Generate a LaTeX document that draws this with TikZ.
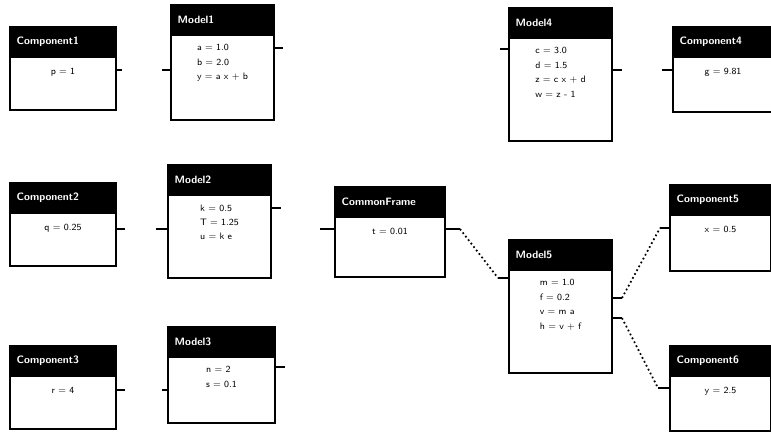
\documentclass[tikz,border=0pt]{standalone}
\usepackage{tikz}
\usetikzlibrary{arrows.meta,positioning,calc}

\tikzset{
  head/.style={draw, fill=black, text=white, font=\sffamily\bfseries\footnotesize, anchor=north west,
    line width=1.5pt, outer sep=0pt, inner xsep=5pt, minimum height=22.5pt, text width=#1, align=left},
  body/.style 2 args={draw, fill=white, line width=1.5pt, outer sep=0pt, inner sep=0pt,
    minimum width=#1, minimum height=#2},
  txt/.style={font=\sffamily\scriptsize\linespread{1.35}\selectfont, align=left, inner sep=1pt},
  port/.style={line width=1.2pt},
  link/.style={line width=1.3pt, dotted}
}

\begin{document}
\begin{tikzpicture}[x=0.75pt, y=-0.75pt]
  \useasboundingbox (0,0) rectangle (771,433);

  % left column: components
  \node[head=69.5pt] (c1head) at (10,27) {Component1};
  \node[body={79.5pt}{39.75pt}, below=0pt of c1head] (c1body) {};
  \node[txt, below=7pt of c1head] (c1txt) {p = 1};

  \node[head=69.5pt] (c2head) at (10,183) {Component2};
  \node[body={79.5pt}{39.75pt}, below=0pt of c2head] (c2body) {};
  \node[txt, below=7pt of c2head] (c2txt) {q = 0.25};

  \node[head=69.5pt] (c3head) at (10,346) {Component3};
  \node[body={79.5pt}{39.75pt}, below=0pt of c3head] (c3body) {};
  \node[txt, below=7pt of c3head] (c3txt) {r = 4};

  % second column: models
  \node[head=67.25pt] (m1head) at (171,5) {Model1};
  \node[body={77.25pt}{63.75pt}, below=0pt of m1head] (m1body) {};
  \node[txt, below=6pt of m1head] (m1txt) {a = 1.0\\ b = 2.0\\ y = a x + b};

  \node[head=67.25pt] (m2head) at (168,165) {Model2};
  \node[body={77.25pt}{62.25pt}, below=0pt of m2head] (m2body) {};
  \node[txt, below=6pt of m2head] (m2txt) {k = 0.5\\ T = 1.25\\ u = k e};

  \node[head=70.25pt] (m3head) at (168,327) {Model3};
  \node[body={80.25pt}{49.5pt}, below=0pt of m3head] (m3body) {};
  \node[txt, below=6pt of m3head] (m3txt) {n = 2\\ s = 0.1};

  % middle: common frame
  \node[head=72.5pt] (cfhead) at (335,187) {CommonFrame};
  \node[body={82.5pt}{45pt}, below=0pt of cfhead] (cfbody) {};
  \node[txt, below=7pt of cfhead] (cftxt) {t = 0.01};

  % right side: models
  \node[head=67.25pt] (m4head) at (509,8) {Model4};
  \node[body={77.25pt}{77.25pt}, below=0pt of m4head] (m4body) {};
  \node[txt, below=6pt of m4head] (m4txt) {c = 3.0\\ d = 1.5\\ z = c x + d\\ w = z - 1};

  \node[head=67.25pt] (m5head) at (509,240) {Model5};
  \node[body={77.25pt}{77.25pt}, below=0pt of m5head] (m5body) {};
  \node[txt, below=6pt of m5head] (m5txt) {m = 1.0\\ f = 0.2\\ v = m a\\ h = v + f};

  % right column: components
  \node[head=65pt] (c4head) at (673,27) {Component4};
  \node[body={75pt}{41.25pt}, below=0pt of c4head] (c4body) {};
  \node[txt, below=7pt of c4head] (c4txt) {g = 9.81};

  \node[head=65.75pt] (c5head) at (670,185) {Component5};
  \node[body={75.75pt}{42pt}, below=0pt of c5head] (c5body) {};
  \node[txt, below=7pt of c5head] (c5txt) {x = 0.5};

  \node[head=65.75pt] (c6head) at (670,346) {Component6};
  \node[body={75.75pt}{41.25pt}, below=0pt of c6head] (c6body) {};
  \node[txt, below=7pt of c6head] (c6txt) {y = 2.5};

  % port ends
  \coordinate (c1out) at (122,70);
  \coordinate (c2out) at (125,229);
  \coordinate (c3out) at (125,390);
  \coordinate (m1in) at (162,70);
  \coordinate (m1out) at (283,48);
  \coordinate (m2in) at (156,229);
  \coordinate (m2out) at (281,208);
  \coordinate (m3in) at (162,390);
  \coordinate (m3out) at (285,367);
  \coordinate (cfin) at (320,229);
  \coordinate (cfout) at (460,229);
  \coordinate (m4in) at (500,49);
  \coordinate (m4out) at (622,70);
  \coordinate (m5in) at (498,278);
  \coordinate (m5outa) at (622,298);
  \coordinate (m5outb) at (622,318);
  \coordinate (c4in) at (662,70);
  \coordinate (c5in) at (660,228);
  \coordinate (c6in) at (658,388);

  % port stubs
  \draw[port] (c1body.east |- c1out) -- (c1out);
  \draw[port] (c2body.east |- c2out) -- (c2out);
  \draw[port] (c3body.east |- c3out) -- (c3out);
  \draw[port] (m1body.west |- m1in) -- (m1in);
  \draw[port] (m1body.east |- m1out) -- (m1out);
  \draw[port] (m2body.west |- m2in) -- (m2in);
  \draw[port] (m2body.east |- m2out) -- (m2out);
  \draw[port] (m3body.west |- m3in) -- (m3in);
  \draw[port] (m3body.east |- m3out) -- (m3out);
  \draw[port] (cfbody.west |- cfin) -- (cfin);
  \draw[port] (cfbody.east |- cfout) -- (cfout);
  \draw[port] (m4body.west |- m4in) -- (m4in);
  \draw[port] (m4body.east |- m4out) -- (m4out);
  \draw[port] (m5body.west |- m5in) -- (m5in);
  \draw[port] (m5body.east |- m5outa) -- (m5outa);
  \draw[port] (m5body.east |- m5outb) -- (m5outb);
  \draw[port] (c4body.west |- c4in) -- (c4in);
  \draw[port] (c5body.west |- c5in) -- (c5in);
  \draw[port] (c6body.west |- c6in) -- (c6in);

  % links
  \draw[link] (cfout) -- (m5in);
  \draw[link] (m5outa) -- (c5in);
  \draw[link] (m5outb) -- (c6in);
\end{tikzpicture}
\end{document}
